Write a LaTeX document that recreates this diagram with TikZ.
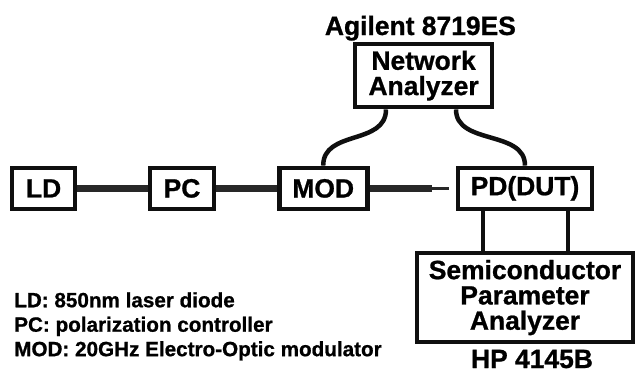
\documentclass[tikz,border=0pt]{standalone}
\usepackage{fontspec}
\setmainfont{Liberation Sans}[BoldFeatures={FakeBold=0.9}]
\usetikzlibrary{positioning, calc}
\definecolor{lineBlack}{RGB}{15, 15, 15}
\definecolor{fiberGray}{RGB}{40, 40, 40}

\begin{document}
\begin{tikzpicture}[
    device/.style={
        rectangle,
        draw=lineBlack,
        line width=3.3pt,
        minimum height=1.025cm,
        inner sep=0pt,
        text centered,
        font=\fontsize{18.8}{18}\selectfont\bfseries,
        align=center
    },
    title/.style={
        font=\fontsize{18.8}{18}\selectfont\bfseries,
        inner sep=0pt
    },
    fiber/.style={
        line width=4.5pt,
        fiberGray
    },
    thinfiber/.style={
        line width=1.8pt,
        fiberGray
    },
    cable/.style={
        line width=3.2pt,
        lineBlack
    },
    legend/.style={
        font=\fontsize{14.7}{17.4}\selectfont\bfseries,
        align=left,
        inner sep=0pt
    }
]

\useasboundingbox (0,0) rectangle (15.9,-9.35);

% Optical path
\node[device, minimum width=1.575cm] (ld) at (1.09, -4.71) {LD};
\node[device, minimum width=1.6cm] (pc) at (4.55, -4.71) {PC};
\node[device, minimum width=2.2cm] (mod) at (8.08, -4.71) {MOD};
\node[device, minimum width=3.35cm] (pd) at (13.125, -4.71) {PD(DUT)};

% Instruments
\node[device, minimum width=3.425cm, minimum height=1.575cm] (na) at (10.59, -1.89) {Network\\Analyzer};
\node[title, anchor=base] (naName) at (10.51, -0.875) {Agilent 8719ES};
\node[device, minimum width=5.4cm, minimum height=2.225cm] (spa) at (13.125, -7.44) {Semiconductor\\Parameter\\Analyzer};
\node[title, anchor=base] (spaName) at (13.3, -9.2) {HP 4145B};

% Fibers
\coordinate (fiberJoin) at ($(mod.east)+(1.55,0)$);
\coordinate (fiberEnd) at ($(pd.west)+(-0.17,0)$);
\draw[fiber] (ld.east) -- (pc.west);
\draw[fiber] (pc.east) -- (mod.west);
\draw[fiber] (mod.east) -- (fiberJoin);
\draw[thinfiber] (fiberJoin) -- (fiberEnd);

% RF cables
\coordinate (naLeft) at ($(na.south)+(-0.94,0)$);
\coordinate (naRight) at ($(na.south)+(0.81,0)$);
\draw[cable] (naLeft) .. controls +(0,-0.9) and +(0,0.9) .. (mod.north);
\draw[cable] (naRight) .. controls +(0,-0.9) and +(0,0.9) .. (pd.north);

% Bias lines
\coordinate (pdLeft) at ($(pd.south)+(-1.05,0)$);
\coordinate (pdRight) at ($(pd.south)+(1.075,0)$);
\draw[cable] (pdLeft) -- (pdLeft |- spa.north);
\draw[cable] (pdRight) -- (pdRight |- spa.north);

% Legend
\node[legend, anchor=north west] (legendText) at (0.35, -7.3) {LD: 850nm laser diode\\PC: polarization controller\\MOD: 20GHz Electro-Optic modulator};

\end{tikzpicture}
\end{document}
